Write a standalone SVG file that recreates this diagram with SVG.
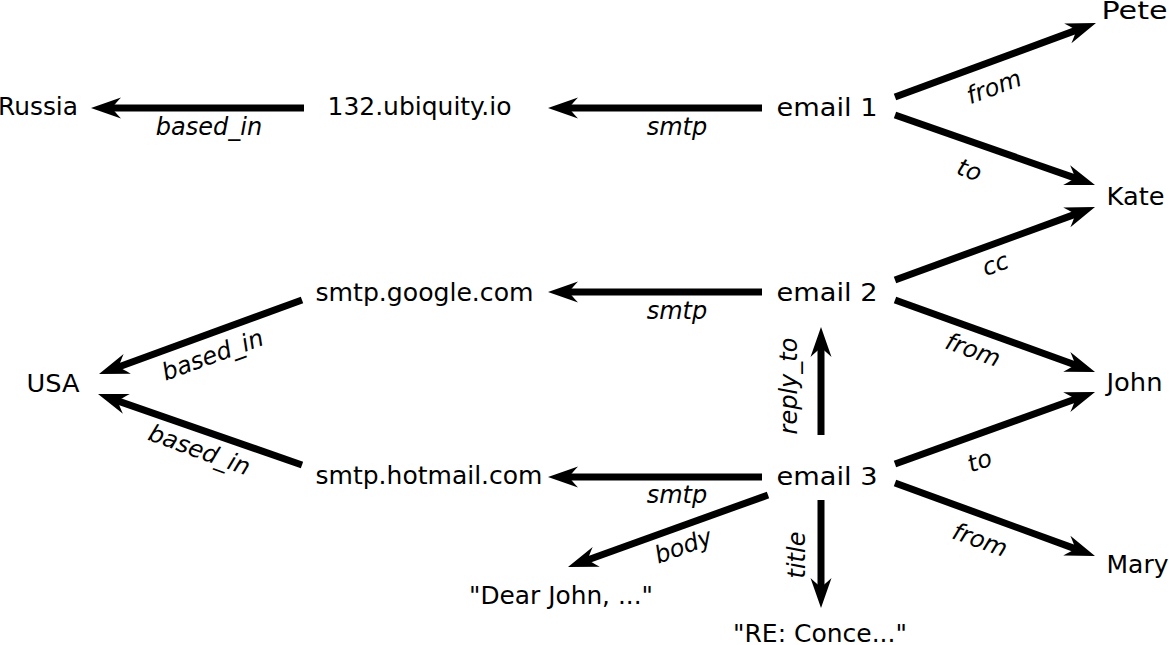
<svg xmlns="http://www.w3.org/2000/svg" width="1169" height="645" viewBox="0 0 1169 645">
<style>
.n{font-family:"DejaVu Sans","Liberation Sans",sans-serif;font-size:24px;fill:#000;text-anchor:middle}
.l{font-family:"DejaVu Sans","Liberation Sans",sans-serif;font-size:24px;font-style:italic;fill:#000;text-anchor:middle}
.e{stroke:#000;stroke-width:7;fill:none;marker-end:url(#arr)}
</style>
<defs>
<marker id="arr" markerUnits="userSpaceOnUse" orient="auto" refX="-20" refY="0" markerWidth="40" markerHeight="30" overflow="visible">
<path d="M0,0 L-30,-10.5 Q-23,-3 -21,0 Q-23,3 -30,10.5 Z" fill="#000"/>
</marker>
</defs>
<rect width="1169" height="645" fill="#fff"/>
<g id="connectors">
<line class="e" x1="762" y1="108" x2="568" y2="108"/>
<line class="e" x1="304" y1="108" x2="111" y2="108"/>
<line class="e" x1="895" y1="97" x2="1077.2" y2="29.9"/>
<line class="e" x1="895" y1="115" x2="1076.1" y2="178.4"/>
<line class="e" x1="895" y1="280" x2="1076.2" y2="213.9"/>
<line class="e" x1="895" y1="300" x2="1076.2" y2="365.2"/>
<line class="e" x1="762" y1="292" x2="568" y2="292"/>
<line class="e" x1="302" y1="300" x2="117.8" y2="367.2"/>
<line class="e" x1="302" y1="465" x2="116.9" y2="400.6"/>
<line class="e" x1="762" y1="477" x2="568" y2="477"/>
<line class="e" x1="821" y1="435" x2="821" y2="347"/>
<line class="e" x1="895" y1="464" x2="1076.2" y2="398.8"/>
<line class="e" x1="895" y1="483" x2="1076.2" y2="549.1"/>
<line class="e" x1="768" y1="495" x2="586.8" y2="560.2"/>
<line class="e" x1="821" y1="500" x2="821" y2="588"/>
<text class="l" x="209" y="135">based_in</text>
<text class="l" x="677" y="135">smtp</text>
<text class="l" x="677" y="319">smtp</text>
<text class="l" x="677" y="503">smtp</text>
<text class="l" transform="translate(994,87) rotate(-20)" y="8">from</text>
<text class="l" transform="translate(969,171) rotate(20)" y="7">to</text>
<text class="l" transform="translate(996,266) rotate(-20)" y="6">cc</text>
<text class="l" transform="translate(973,350) rotate(20)" y="8">from</text>
<text class="l" transform="translate(213,356) rotate(-20)" y="7">based_in</text>
<text class="l" transform="translate(199,451) rotate(20)" y="7">based_in</text>
<text class="l" transform="translate(792,386) rotate(-90)" y="5">reply_to</text>
<text class="l" transform="translate(797,555) rotate(-90)" y="8">title</text>
<text class="l" transform="translate(980,462) rotate(-20)" y="7">to</text>
<text class="l" transform="translate(980,540) rotate(20)" y="8">from</text>
<text class="l" transform="translate(684,548) rotate(-20)" y="6">body</text>
</g>
<g id="russia"><text class="n" x="38" y="115" textLength="80" lengthAdjust="spacingAndGlyphs">Russia</text></g>
<g id="ubiquity"><text class="n" x="419.5" y="115" textLength="184" lengthAdjust="spacingAndGlyphs">132.ubiquity.io</text></g>
<g id="email1"><text class="n" x="827" y="116" textLength="101" lengthAdjust="spacingAndGlyphs">email 1</text></g>
<g id="pete"><text class="n" x="1134.5" y="19" textLength="66" lengthAdjust="spacingAndGlyphs">Pete</text></g>
<g id="kate"><text class="n" x="1135.5" y="205" textLength="58" lengthAdjust="spacingAndGlyphs">Kate</text></g>
<g id="google"><text class="n" x="424.5" y="301" textLength="218" lengthAdjust="spacingAndGlyphs">smtp.google.com</text></g>
<g id="email2"><text class="n" x="827" y="301" textLength="101" lengthAdjust="spacingAndGlyphs">email 2</text></g>
<g id="usa"><text class="n" x="53" y="392" textLength="53" lengthAdjust="spacingAndGlyphs">USA</text></g>
<g id="john"><text class="n" x="1134.5" y="391" textLength="56" lengthAdjust="spacingAndGlyphs">John</text></g>
<g id="hotmail"><text class="n" x="429" y="484" textLength="227" lengthAdjust="spacingAndGlyphs">smtp.hotmail.com</text></g>
<g id="email3"><text class="n" x="827" y="485" textLength="101" lengthAdjust="spacingAndGlyphs">email 3</text></g>
<g id="mary"><text class="n" x="1137.5" y="573" textLength="62" lengthAdjust="spacingAndGlyphs">Mary</text></g>
<g id="dearjohn"><text class="n" x="561" y="604" textLength="184" lengthAdjust="spacingAndGlyphs">"Dear John, ..."</text></g>
<g id="title"><text class="n" x="820" y="642" textLength="174" lengthAdjust="spacingAndGlyphs">"RE: Conce..."</text></g>
</svg>
